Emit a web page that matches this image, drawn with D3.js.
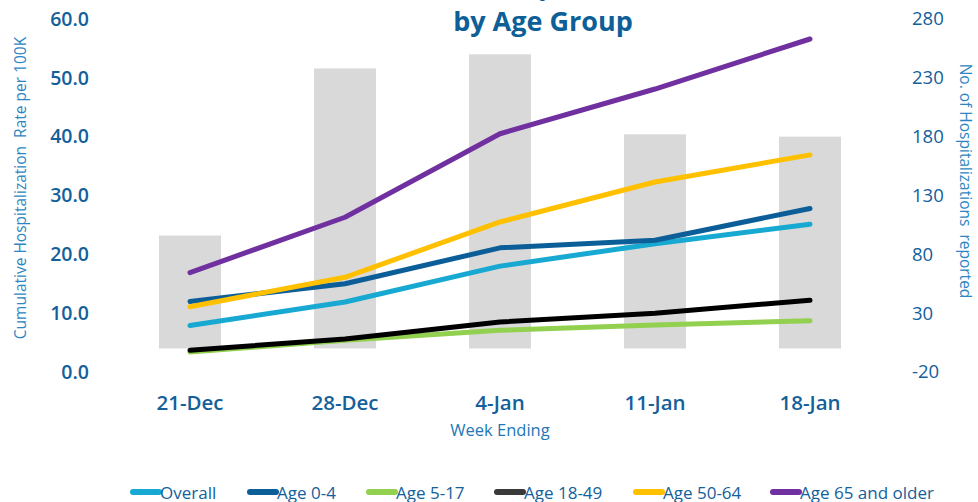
<!DOCTYPE html>
<html>
<head>
<meta charset="utf-8">
<script src="https://cdn.jsdelivr.net/npm/d3@7"></script>
<style>
  body { margin: 0; background: #fff; }
  text { font-family: "Open Sans", sans-serif; }
</style>
</head>
<body>
<div id="chart"></div>
<script>
// data
var weeks = ["21-Dec", "28-Dec", "4-Jan", "11-Jan", "18-Jan"];
var hospCounts = [96, 238, 250, 182, 180];
var overall = [7.9, 11.9, 18.0, 21.8, 25.1];
var age0to4 = [12.0, 15.0, 21.1, 22.4, 27.8];
var age5to17 = [3.4, 5.4, 7.1, 8.0, 8.7];
var age18to49 = [3.7, 5.6, 8.5, 10.0, 12.2];
var age50to64 = [11.1, 16.1, 25.5, 32.3, 36.9];
var age65plus = [16.9, 26.3, 40.5, 48.1, 56.6];
var leftTicks = [0, 10, 20, 30, 40, 50, 60];
var rightTicks = [-20, 30, 80, 130, 180, 230, 280];

var series = [
  {name: "Overall", values: overall, color: "#17a9d1"},
  {name: "Age 0-4", values: age0to4, color: "#0b5e98"},
  {name: "Age 5-17", values: age5to17, color: "#92d050"},
  {name: "Age 18-49", values: age18to49, color: "#000000", legendColor: "#3a3a3a"},
  {name: "Age 50-64", values: age50to64, color: "#ffc000"},
  {name: "Age 65 and older", values: age65plus, color: "#7030a0"}
];
var drawOrder = [2, 3, 0, 1, 4, 5];

var width = 978, height = 502;
var svg = d3.select("#chart").append("svg")
    .attr("width", width)
    .attr("height", height);

//scales
var x = d3.scaleBand().domain(weeks).range([112.5, 887.5]).paddingInner(0.6).paddingOuter(0.3);
var yL = d3.scaleLinear().domain([0, 60]).range([372, 19]);
var yR = d3.scaleLinear().domain([-20, 280]).range([372, 19]);

//bars
svg.append("g").selectAll("rect")
  .data(hospCounts)
  .join("rect")
    .attr("x", function(d, i) { return x(weeks[i]); })
    .attr("width", x.bandwidth())
    .attr("y", function(d) { return yR(d); })
    .attr("height", function(d) { return yR(0) - yR(d); })
    .attr("fill", "#d9d9d9");

//lines
var line = d3.line()
  .x(function(d, i) { return x(weeks[i]) + x.bandwidth() / 2; })
  .y(function(d) { return yL(d); });

svg.append("g").selectAll("path")
  .data(drawOrder.map(function(i) { return series[i]; }))
  .join("path")
    .attr("d", function(s) { return line(s.values); })
    .attr("fill", "none")
    .attr("stroke", function(s) { return s.color; })
    .attr("stroke-width", 5)
    .attr("stroke-linecap", "round")
    .attr("stroke-linejoin", "round");

//left axis
var gL = svg.append("g")
    .attr("transform", "translate(91,0)")
    .call(d3.axisLeft(yL).tickValues(leftTicks).tickFormat(d3.format(".1f")).tickSize(0).tickPadding(2));
gL.select(".domain").remove();
gL.selectAll("text")
    .attr("font-family", "Open Sans").attr("font-size", 19.5).attr("font-weight", 600).attr("fill", "#13609b");

//right axis
var gR = svg.append("g")
    .attr("transform", "translate(909,0)")
    .call(d3.axisRight(yR).tickValues(rightTicks).tickFormat(function(d) { return String(d); }).tickSize(0).tickPadding(3));
gR.select(".domain").remove();
gR.selectAll("text")
    .attr("font-family", "Open Sans").attr("font-size", 18.5).attr("fill", "#13609b");

//x axis
var gX = svg.append("g")
    .attr("transform", "translate(0,395)")
    .call(d3.axisBottom(x).tickSize(0).tickPadding(0));
gX.select(".domain").remove();
gX.selectAll("text")
    .attr("font-family", "Open Sans").attr("font-size", 20.5).attr("font-weight", 600).attr("fill", "#13609b");

//axis titles
svg.append("text")
    .attr("transform", "translate(26,188) rotate(-90)")
    .attr("text-anchor", "middle")
    .attr("font-size", 15.5).attr("fill", "#2e86c1")
    .style("white-space", "pre")
    .text("Cumulative Hospitalization  Rate per 100K");

svg.append("text")
    .attr("transform", "translate(960,181) rotate(90)")
    .attr("text-anchor", "middle")
    .attr("font-size", 15.5).attr("fill", "#2e86c1")
    .style("white-space", "pre")
    .text("No. of Hospitalizations  reported");

svg.append("text")
    .attr("x", 500).attr("y", 436)
    .attr("text-anchor", "middle")
    .attr("font-size", 16.5).attr("fill", "#2178b5")
    .text("Week Ending");

//title
svg.append("text")
    .attr("x", 543).attr("y", -5)
    .attr("text-anchor", "middle")
    .attr("font-size", 27).attr("font-weight", 700).attr("fill", "#0d5f98")
    .text("Cumulative Hospitalization Rate");
svg.append("text")
    .attr("x", 543).attr("y", 31)
    .attr("text-anchor", "middle")
    .attr("font-size", 27).attr("font-weight", 700).attr("fill", "#0d5f98")
    .text("by Age Group");

//legend
var legendX = [131, 248, 367, 495, 634, 771];
var leg = svg.append("g").selectAll("g")
  .data(series)
  .join("g")
    .attr("transform", function(d, i) { return "translate(" + legendX[i] + ",492)"; });
leg.append("line")
    .attr("x1", 2).attr("x2", 28)
    .attr("stroke", function(d) { return d.legendColor || d.color; })
    .attr("stroke-width", 6)
    .attr("stroke-linecap", "round");
leg.append("text")
    .attr("x", 29).attr("y", 7)
    .attr("font-size", 17).attr("fill", "#13609b")
    .text(function(d) { return d.name; });
</script>
</body>
</html>
